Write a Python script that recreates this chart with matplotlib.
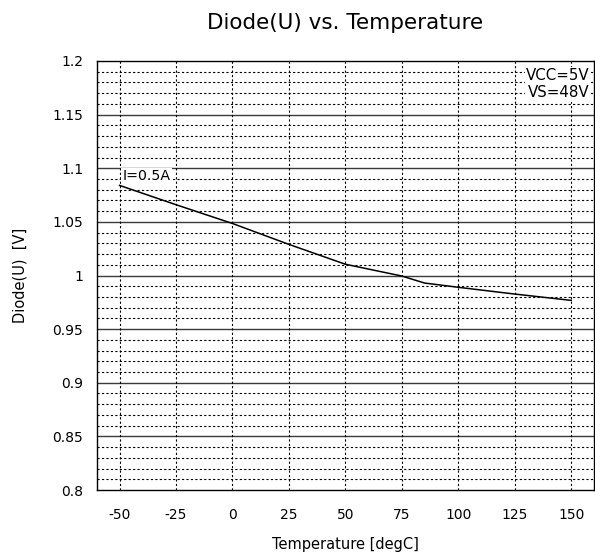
import matplotlib
matplotlib.use("Agg")
import matplotlib.pyplot as plt
from matplotlib.ticker import FormatStrFormatter

# data
temps = [-50, -25, 0, 25, 50, 75, 85, 100, 125, 150]
diode_u = [1.084, 1.066, 1.0485, 1.029, 1.0105, 0.9995, 0.993, 0.989, 0.9827, 0.9768]
xticks = [-50, -25, 0, 25, 50, 75, 100, 125, 150]
yticks = [0.8, 0.85, 0.9, 0.95, 1.0, 1.05, 1.1, 1.15, 1.2]

plt.rcParams['font.family'] = ['DejaVu Sans']
plt.rcParams['axes.unicode_minus'] = False

fig = plt.figure(figsize=(5.95, 5.54), dpi=100)
ax = fig.add_axes([0.163, 0.1155, 0.835, 0.7744])

ax.set_xlim(-60, 160)
ax.set_ylim(0.8, 1.2)

# grid: solid major horizontals, dotted minor horizontals and verticals
for k in range(81, 120):
    y = k / 100
    if k % 5 == 0:
        ax.axhline(y, color="#3a3a3a", lw=1.0, zorder=1)
    else:
        ax.axhline(y, color="black", lw=0.8, ls=(0, (2, 2)), zorder=1)
for x in xticks:
    ax.axvline(x, color="black", lw=0.8, ls=(0, (2, 2)), zorder=1)

ax.plot(temps, diode_u, color="black", lw=1.1, zorder=3)

ax.set_xticks(xticks)
ax.set_yticks(yticks)
ax.yaxis.set_major_formatter(FormatStrFormatter('%g'))
ax.tick_params(axis='both', which='both', length=0, labelsize=10)
ax.tick_params(axis='x', pad=13)
ax.tick_params(axis='y', pad=10)

for s in ax.spines.values():
    s.set_linewidth(1.0)
    s.set_color("black")

ax.set_title("Diode(U) vs. Temperature", fontsize=15.5, pad=23)
ax.set_xlabel("Temperature [degC]", fontsize=10.5, labelpad=11)
ax.set_ylabel("Diode(U)  [V]", fontsize=10.5, labelpad=18)

ax.text(-48.7, 1.0928, "I=0.5A", fontsize=10.2, ha="left", va="center", zorder=4,
        bbox=dict(facecolor="white", edgecolor="none", pad=1.0))
ax.text(158.3, 1.1785, "VCC=5V\nVS=48V", fontsize=10.8, ha="right", va="center", zorder=4,
        bbox=dict(facecolor="white", edgecolor="none", pad=1.0))

plt.savefig("out.png", dpi=100)
